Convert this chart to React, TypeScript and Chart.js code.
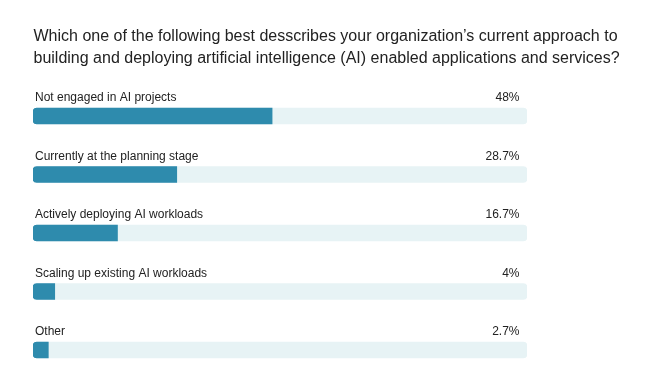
import React, { useEffect, useRef } from "react";
import { Chart, registerables } from "chart.js";

Chart.register(...registerables);

const titleLines = [
  "Which one of the following best desscribes your organization\u2019s current approach to",
  "building and deploying artificial intelligence (AI) enabled applications and services?",
];
const categories = [
  "Not engaged in AI projects",
  "Currently at the planning stage",
  "Actively deploying AI workloads",
  "Scaling up existing AI workloads",
  "Other",
];
const values = [48, 28.7, 16.7, 4, 2.7];
const valueLabels = ["48%", "28.7%", "16.7%", "4%", "2.7%"];
const trackValues = [100, 100, 100, 100, 100];

const BAR_COLOR = "#2e8bad";
const TRACK_COLOR = "#e7f3f5";
const TEXT_COLOR = "#222222";
const FONT = "'Liberation Sans', Arial, sans-serif";

export default function App() {
  const ref = useRef<HTMLCanvasElement | null>(null);

  useEffect(() => {
    if (!ref.current) return;
    const labelPlugin = {
      id: "rowLabels",
      afterDatasetsDraw(chart: any) {
        const { ctx, scales } = chart;
        const x = scales.x;
        const y = scales.y;
        ctx.save();
        // title
        ctx.font = `16px ${FONT}`;
        ctx.fillStyle = TEXT_COLOR;
        ctx.textBaseline = "alphabetic";
        ctx.textAlign = "left";
        titleLines.forEach((t, i) => {
          ctx.fillText(t, 25.5, 32.7 + i * 22);
        });
        // row labels
        ctx.font = `12px ${FONT}`;
        categories.forEach((c, i) => {
          const cy = y.getPixelForValue(i);
          const by = cy - 15;
          ctx.textAlign = "left";
          ctx.fillText(c, x.getPixelForValue(0) + 2, by);
          ctx.textAlign = "right";
          ctx.fillText(valueLabels[i], x.getPixelForValue(100) - 7.5, by);
        });
        ctx.restore();
      },
    };

    const chart = new Chart(ref.current, {
      type: "bar",
      data: {
        labels: categories,
        datasets: [
          {
            data: values,
            xAxisID: "x2",
            base: -0.4,
            backgroundColor: BAR_COLOR,
            grouped: false,
            barThickness: 16,
            borderSkipped: false,
            borderRadius: { topLeft: 4, bottomLeft: 4, topRight: 0, bottomRight: 0 },
          },
          {
            data: trackValues,
            xAxisID: "x",
            backgroundColor: TRACK_COLOR,
            grouped: false,
            barThickness: 16,
            borderSkipped: false,
            borderRadius: 4,
          },
        ],
      },
      options: {
        indexAxis: "y",
        animation: false,
        responsive: false,
        maintainAspectRatio: false,
        events: [],
        layout: { padding: { left: 25, right: 113, top: 78.75, bottom: 0.75 } },
        scales: {
          x: { display: false, min: 0, max: 100 },
          x2: { type: "linear", axis: "x", display: false, min: -0.4, max: 99.6 },
          y: { display: false },
        },
        plugins: {
          legend: { display: false },
          tooltip: { enabled: false },
          title: { display: false },
        },
      } as any,
      plugins: [labelPlugin],
    });
    return () => chart.destroy();
  }, []);

  return (
    <div style={{ width: 632, height: 372 }}>
      <canvas ref={ref} width={632} height={372} style={{ display: "block" }} />
    </div>
  );
}
